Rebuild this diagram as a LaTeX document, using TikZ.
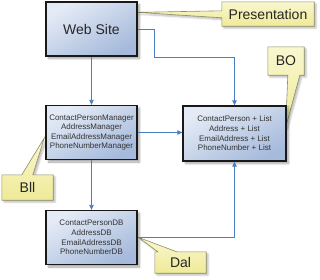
\documentclass[tikz,border=0pt]{standalone}
\usepackage{fontspec}
\setmainfont{Liberation Sans}
\usetikzlibrary{shadows.blur,arrows.meta,calc,backgrounds}
\definecolor{boxlight}{HTML}{E4EBF6}
\definecolor{boxdark}{HTML}{A6BADB}
\definecolor{connblue}{HTML}{4A7EC4}
\definecolor{calltop}{HTML}{F9F7CF}
\definecolor{callbot}{HTML}{EFEA98}
\definecolor{callline}{HTML}{8E8E66}
\definecolor{boxtext}{HTML}{333333}
\tikzset{
  layerbox/.style={draw=black!90, line width=1.3pt, top color=boxlight, bottom color=boxdark, shading angle=30,
    blur shadow={shadow xshift=2.5pt, shadow yshift=-2.5pt, shadow blur steps=6, shadow blur radius=2pt, shadow opacity=35},
    minimum width=91pt, minimum height=54pt, align=center, inner sep=0pt},
  smalltext/.style={font=\fontsize{8}{9.6}\selectfont, text=boxtext},
  calltext/.style={font=\fontsize{14}{16}\selectfont, text=black!85, inner sep=0pt},
  callshape/.style={draw=callline, line width=0.6pt, top color=calltop, bottom color=callbot,
    blur shadow={shadow xshift=2pt, shadow yshift=-2pt, shadow blur steps=5, shadow blur radius=1.5pt, shadow opacity=25}},
  conn/.style={draw=connblue, line width=0.8pt, -{Triangle[length=5pt,width=4.5pt]}}
}
\begin{document}
\begin{tikzpicture}[x=1pt,y=-1pt]
\useasboundingbox (0,0) rectangle (320,279);
% boxes
\node[layerbox, font=\fontsize{14}{16}\selectfont, text=black!85] (web) at (91.5,29) {Web Site};
\node[layerbox, smalltext] (mgr) at (91.5,132.5) {ContactPersonManager\\AddressManager\\EmailAddressManager\\PhoneNumberManager};
\node[layerbox, smalltext] (db) at (91.5,237.5) {ContactPersonDB\\AddressDB\\EmailAddressDB\\PhoneNumberDB};
\node[layerbox, smalltext, minimum width=103pt, minimum height=55pt] (bo) at (234.5,133.5) {ContactPerson + List\\Address + List\\EmailAddress + List\\PhoneNumber + List};
% callout texts
\node[calltext, minimum width=92pt, minimum height=24pt] (pres) at (268,14) {Presentation};
\node[calltext, minimum width=36pt, minimum height=28pt] (boc) at (286,61) {BO};
\node[calltext, minimum width=51pt, minimum height=25pt] (bllc) at (27.5,187.5) {Bll};
\node[calltext, minimum width=51pt, minimum height=21pt] (dalc) at (180.5,262.5) {Dal};
% callout shapes
\begin{scope}[on background layer]
\path[callshape] (pres.north west) -- (pres.north east) -- (pres.south east) -- (pres.south west)
  -- ($(pres.north west)+(0,16)$) -- ($(web.north east)+(0,11)$) -- ($(pres.north west)+(0,9)$) -- cycle;
\path[callshape] (boc.north west) -- (boc.north east) -- (boc.south east) -- ($(boc.south west)+(32,0)$)
  -- ($(bo.north east)+(-1,22)$) -- ($(boc.south west)+(20,0)$) -- (boc.south west) -- cycle;
\path[callshape] (bllc.north west) -- ($(bllc.north west)+(20,0)$) -- ($(mgr.north west)+(-1,33)$)
  -- ($(bllc.north west)+(31,0)$) -- (bllc.north east) -- (bllc.south east) -- (bllc.south west) -- cycle;
\path[callshape] (dalc.south west) -- (dalc.north west) -- ($(dalc.north west)+(3,0)$) -- ($(db.east)+(1,0)$)
  -- ($(dalc.north west)+(22,0)$) -- (dalc.north east) -- (dalc.south east) -- cycle;
\end{scope}
% connectors
\draw[conn] (web.south) -- (mgr.north);
\draw[conn] (mgr.south) -- (db.north);
\draw[conn] (mgr.east) -- (mgr.east -| bo.west);
\draw[conn] (web.east) -- ++(17,0) |- ($(bo.north)+(0,-48)$) -- (bo.north);
\draw[conn] (db.east) -| (bo.south);
\end{tikzpicture}
\end{document}
